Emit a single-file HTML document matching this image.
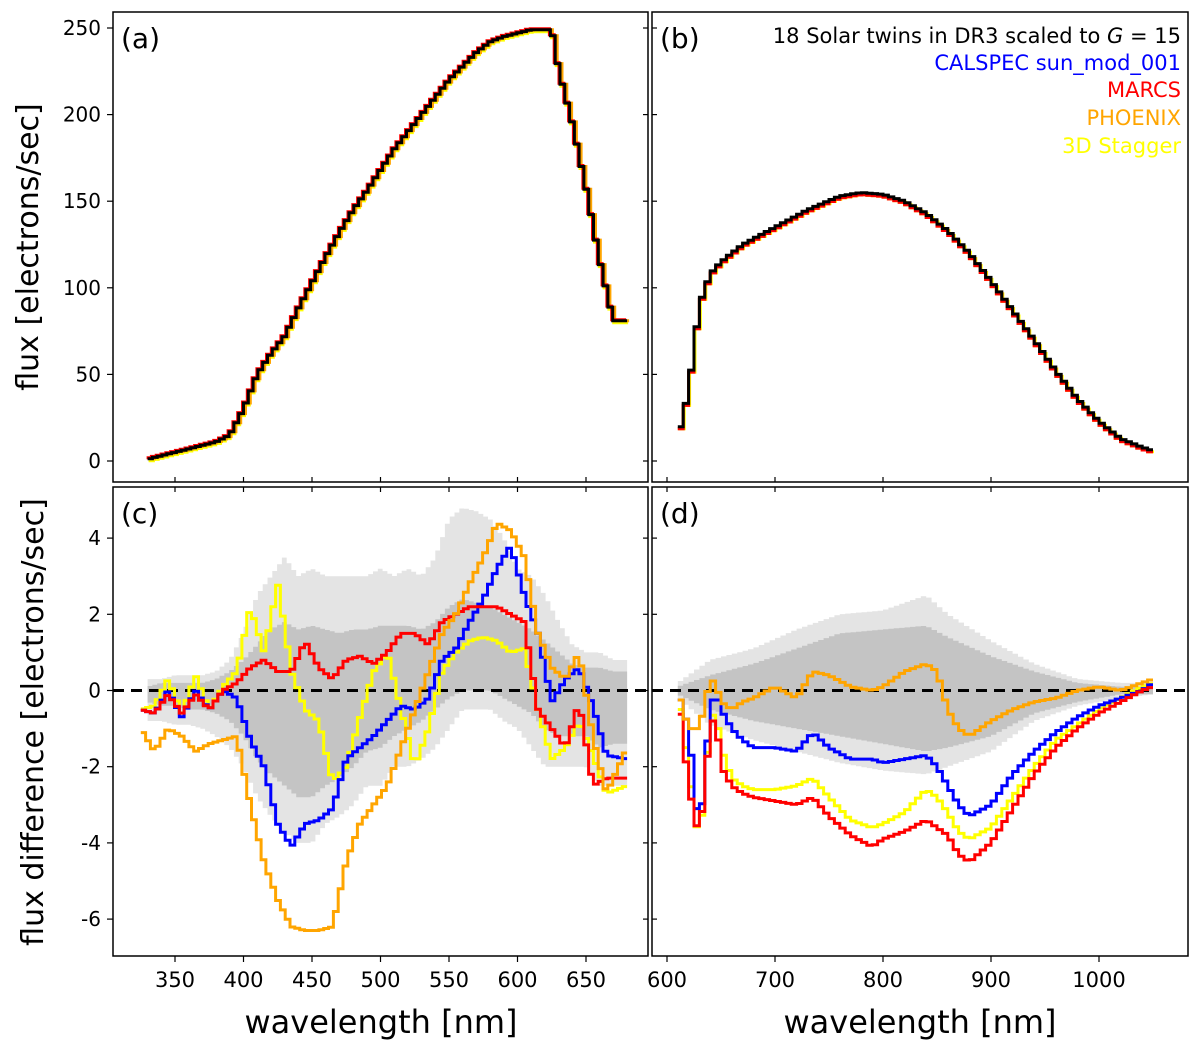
<!DOCTYPE html>
<html><head><meta charset="utf-8"><style>
body{margin:0;background:#fff}
svg{display:block;font-family:"DejaVu Sans","Liberation Sans",sans-serif}
</style></head><body>
<svg id="fig" width="1200" height="1050" viewBox="0 0 1200 1050" xmlns="http://www.w3.org/2000/svg">
<g id="bands"></g><g id="lines"></g><g id="frames"></g>
</svg>
<script>
// panel (a)
const aWl=[330,340,350,360,370,380,390,400,410,420,430,440,450,460,470,480,490,500,510,520,530,540,550,560,570,580,590,600,610,620,625,630,640,650,660,670,680];
const aFlux=[1,3,5,7,9,11,15,30,50,62,72,88,103,118,132,145,156,168,180,190,200,210,220,228,236,242,245,247,249,249,249,226,195,158,116,81,81];
// panel (b)
const bWl=[610,620,630,640,650,670,700,730,760,780,800,820,840,860,880,900,920,940,960,980,1000,1020,1040,1050];
const bFlux=[13,40,90,108,115,125,135,145,153,155,154,150,143,133,120,104,87,70,52,36,23,13,8,6];
// panel (c)
const cWl=[325,335,345,355,365,375,385,395,405,415,425,435,445,455,465,475,485,495,505,515,525,535,545,555,565,575,585,595,605,615,625,635,645,655,665,680];
const cBlue=[-0.5,-0.6,0,-0.7,0,-0.5,0,-0.2,-1.3,-2,-3.5,-4.1,-3.5,-3.4,-3.1,-1.8,-1.5,-1.2,-0.8,-0.4,-0.5,-0.2,0.8,1.1,1.8,2.4,3.2,3.8,2.5,1.5,-0.3,0.3,0.6,-0.4,-1.7,-1.8];
const cRed=[-0.5,-0.6,-0.1,-0.6,-0.1,-0.5,0,0.2,0.6,0.8,0.5,0.5,1.3,0.6,0.3,0.8,0.9,0.7,1,1.5,1.5,1.2,1.8,2,2.2,2.2,2.2,2,1.8,-0.5,-1,-1.5,-0.3,-2.5,-2.3,-2.3];
const cOrange=[-1,-1.6,-1,-1.2,-1.6,-1.4,-1.3,-1.2,-3,-4.5,-5.5,-6.2,-6.3,-6.3,-6.2,-4.5,-3.5,-3,-2.5,-1.5,-0.5,0.5,1.5,2,2.8,3.5,4.4,4.2,3.5,1.5,0.6,0.3,1,-1.2,-2.7,-1.5];
const cYellow=[-0.5,-0.4,0.3,-0.6,0.4,-0.5,0.1,0.5,2.2,1.0,2.8,0.5,-0.5,-0.8,-2.4,-2,-0.7,0.5,1,-0.5,-2,-1,0.5,1,1.3,1.4,1.3,1,1.1,-0.5,-1.8,-1.5,-0.8,-1.7,-2.7,-2.5];
const cBandWl=[330,340,350,360,370,380,390,400,410,420,430,440,450,460,470,480,490,500,510,520,530,540,550,560,570,580,590,600,610,620,630,640,650,660,670,680];
const cOuterHi=[0.3,0.3,0.4,0.4,0.4,0.5,0.8,1.5,2.5,3,3.5,3,3.2,3,3,3,3,3.2,3,3.2,3,3.5,4.5,4.8,4.7,4.5,4,3.2,3,2.5,1.8,1.2,1,1,0.8,0.8];
const cOuterLo=[-0.8,-0.8,-0.9,-0.9,-1,-1.2,-1.5,-2,-2.8,-3.3,-3.7,-4,-4,-3.5,-3.3,-3,-2.5,-2.5,-2,-2,-1.8,-1.5,-1,-0.5,-0.5,-0.5,-0.8,-1,-1.5,-2,-2,-2,-2,-2.5,-2.5,-2.5];
const cInnerHi=[0.1,0.2,0.2,0.2,0.2,0.3,0.5,0.8,1.2,1.6,1.8,1.6,1.7,1.6,1.5,1.6,1.6,1.7,1.7,1.7,1.6,1.8,2.2,2.4,2.3,2.2,2,1.8,1.6,1.3,1,0.7,0.6,0.6,0.5,0.5];
const cInnerLo=[-0.3,-0.4,-0.4,-0.5,-0.5,-0.6,-0.8,-1.2,-1.8,-2.2,-2.5,-2.8,-2.8,-2.5,-2.3,-2,-1.6,-1.5,-1.2,-1,-0.8,-0.5,-0.2,0,0,0,-0.2,-0.4,-0.6,-1,-1.2,-1.2,-1.2,-1.5,-1.4,-1.4];
// panel (d)
const dWl=[610,620,630,640,645,650,660,670,680,700,720,735,750,770,790,800,820,840,850,860,870,880,900,920,940,960,980,1000,1020,1040,1050];
const dBlue=[0,-1,-3.8,-0.5,0,-0.5,-1,-1.3,-1.5,-1.5,-1.6,-1.1,-1.5,-1.8,-1.8,-1.9,-1.8,-1.7,-2,-2.5,-3,-3.3,-3,-2.2,-1.6,-1.1,-0.7,-0.4,-0.2,0,0.2];
const dRed=[0,-2.5,-3.9,-1,-0.6,-2,-2.5,-2.7,-2.8,-2.9,-3,-2.8,-3.3,-3.8,-4.1,-3.9,-3.7,-3.4,-3.6,-3.8,-4.3,-4.5,-4,-3.1,-2.2,-1.5,-1,-0.6,-0.3,0,0.1];
const dYellow=[0,-2,-4.1,-0.8,-0.5,-1.5,-2.3,-2.5,-2.6,-2.6,-2.5,-2.3,-2.8,-3.4,-3.6,-3.5,-3.2,-2.6,-2.8,-3.2,-3.7,-3.9,-3.6,-2.8,-2,-1.3,-0.9,-0.5,-0.2,0.1,0.2];
const dOrange=[0,-1,-1,0.3,0.2,-0.3,-0.5,-0.3,-0.2,0.1,-0.2,0.5,0.4,0.1,0,0.1,0.5,0.7,0.5,-0.5,-1,-1.2,-0.8,-0.5,-0.3,-0.2,0,0.1,0,0.2,0.3];
const dBandWl=[610,640,680,720,760,800,840,860,900,940,980,1020,1050];
const dOuterHi=[0.2,0.8,1.1,1.6,2,2.1,2.5,2,1.3,0.7,0.3,0.2,0.2];
const dOuterLo=[-0.2,-0.9,-1.3,-1.6,-1.9,-2.1,-2.2,-2,-1.6,-0.8,-0.4,-0.2,-0.1];
const dInnerHi=[0.1,0.4,0.7,1.1,1.5,1.6,1.7,1.4,0.9,0.5,0.2,0.1,0.1];
const dInnerLo=[-0.1,-0.5,-0.8,-1,-1.2,-1.4,-1.6,-1.5,-1.2,-0.6,-0.3,-0.1,-0.1];
const yTicksA=[0,50,100,150,200,250];
const yTicksC=[-6,-4,-2,0,2,4];
const xTicksC=[350,400,450,500,550,600,650];
const xTicksD=[600,700,800,900,1000];

const NS="http://www.w3.org/2000/svg";
const svg=document.getElementById('fig');
const gB=document.getElementById('bands'),gL=document.getElementById('lines'),gF=document.getElementById('frames');
const P={a:{x0:113,x1:648,y0:12,y1:482},b:{x0:652,x1:1188,y0:12,y1:482},c:{x0:113,x1:648,y0:487,y1:956},d:{x0:652,x1:1188,y0:487,y1:956}};
const xL=w=>175+(w-350)*68.5/50;
const xR=w=>667+(w-600)*1.08;
const yTop=v=>461-v*1.732;
const yBot=v=>690.5-v*38.1;
function el(t,a,p){const e=document.createElementNS(NS,t);for(const k in a)e.setAttribute(k,a[k]);(p||svg).appendChild(e);return e;}
function interp(xs,ys,x){if(x<=xs[0])return ys[0];for(let i=1;i<xs.length;i++){if(x<=xs[i]){const t=(x-xs[i-1])/(xs[i]-xs[i-1]);return ys[i-1]+t*(ys[i]-ys[i-1]);}}return ys[ys.length-1];}
// render as fine steps (binning of the piecewise curve)
function stepPts(xs,ys,fx,fy,dw){const a=xs[0],b=xs[xs.length-1];const n=Math.max(1,Math.round((b-a)/dw));const w=(b-a)/n;let s=[];
for(let i=0;i<n;i++){const x0=a+i*w,x1=x0+w;const v=interp(xs,ys,(x0+x1)/2);s.push(fx(x0).toFixed(1)+','+fy(v).toFixed(1));s.push(fx(x1).toFixed(1)+','+fy(v).toFixed(1));}return s;}
function line(xs,ys,fx,fy,col,w,name,dw,dx,dy){const e=el('polyline',{points:stepPts(xs,ys,fx,fy,dw).join(' '),fill:'none',stroke:col,'stroke-width':w,transform:`translate(${dx||0},${dy||0})`},gL);

}
function band(xs,hi,lo,fx,fy,col,name,dw){const top=stepPts(xs,hi,fx,fy,dw);const bot=stepPts(xs,lo,fx,fy,dw).reverse();const e=el('polygon',{points:top.concat(bot).join(' '),fill:col},gB);

}
// top panels
line(aWl,aFlux,xL,yTop,'#ffff00',3,'a-stagger-line',3.5,1,2);
line(aWl,aFlux,xL,yTop,'#ffa500',3,'a-phoenix-line',3.5,2,0);
line(aWl,aFlux,xL,yTop,'#ff0000',3,'a-marcs-line',3.5,-1,-1);
line(aWl,aFlux,xL,yTop,'#000',3,'a-twins-line',3.5);
line(bWl,bFlux,xR,yTop,'#ffff00',3,'b-stagger-line',5,1,2);
line(bWl,bFlux,xR,yTop,'#ffa500',3,'b-phoenix-line',5,0,2);
line(bWl,bFlux,xR,yTop,'#ff0000',3,'b-marcs-line',5,0,2);
line(bWl,bFlux,xR,yTop,'#000',3,'b-twins-line',5);
// bands
band(cBandWl,cOuterHi,cOuterLo,xL,yBot,'#e4e4e4','c-outer-band',3.5);
band(cBandWl,cInnerHi,cInnerLo,xL,yBot,'#c4c4c4','c-inner-band',3.5);
band(dBandWl,dOuterHi,dOuterLo,xR,yBot,'#e4e4e4','d-outer-band',5);
band(dBandWl,dInnerHi,dInnerLo,xR,yBot,'#c4c4c4','d-inner-band',5);
// zero lines
for(const k of ['c','d']){const z=el('line',{x1:P[k].x0,x2:P[k].x1,y1:yBot(0),y2:yBot(0),stroke:'#000','stroke-width':3,'stroke-dasharray':'11,7'},gL);

}
line(cWl,cYellow,xL,yBot,'#ffff00',3,'c-stagger-line',3.5);
line(cWl,cBlue,xL,yBot,'#0000ff',3,'c-calspec-line',3.5);
line(cWl,cRed,xL,yBot,'#ff0000',3,'c-marcs-line',3.5);
line(cWl,cOrange,xL,yBot,'#ffa500',3,'c-phoenix-line',3.5);
line(dWl,dYellow,xR,yBot,'#ffff00',3,'d-stagger-line',5);
line(dWl,dBlue,xR,yBot,'#0000ff',3,'d-calspec-line',5);
line(dWl,dRed,xR,yBot,'#ff0000',3,'d-marcs-line',5);
line(dWl,dOrange,xR,yBot,'#ffa500',3,'d-phoenix-line',5);
// frames
for(const k in P){const p=P[k];const r=el('rect',{x:p.x0,y:p.y0,width:p.x1-p.x0,height:p.y1-p.y0,fill:'none',stroke:'#000','stroke-width':1.5},gF);


const t=el('text',{x:p.x0+8,y:p.y0+36,'font-size':28,fill:'#000'},gF);t.textContent='('+k+')';

}
function tick(x1,y1,x2,y2){el('line',{x1,y1,x2,y2,stroke:'#000','stroke-width':1.2},gF);}
for(const v of yTicksA){const y=yTop(v);tick(107,y,113,y);tick(652,y,657,y);tick(643,y,648,y);
const t=el('text',{x:101,y:y+7,'font-size':20,'text-anchor':'end'},gF);t.textContent=v;

}
for(const v of yTicksC){const y=yBot(v);tick(107,y,113,y);tick(652,y,657,y);tick(643,y,648,y);
const t=el('text',{x:101,y:y+7,'font-size':20,'text-anchor':'end'},gF);t.textContent=v;

}
for(const v of xTicksC){const x=xL(v);tick(x,956,x,962);tick(x,482,x,477);tick(x,487,x,492);
const t=el('text',{x:x,y:987,'font-size':21,'text-anchor':'middle'},gF);t.textContent=v;

}
for(const v of xTicksD){const x=xR(v);tick(x,956,x,962);tick(x,482,x,477);tick(x,487,x,492);
const t=el('text',{x:x,y:987,'font-size':21,'text-anchor':'middle'},gF);t.textContent=v;

}
</script>
<div style="position:absolute;left:0;top:0;width:1200px;height:1050px;pointer-events:none">
<svg width="1200" height="1050" style="font-family:'DejaVu Sans','Liberation Sans',sans-serif">
<text x="38" y="247" font-size="30" text-anchor="middle" transform="rotate(-90 38 247)">flux [electrons/sec]</text>
<text x="43" y="722" font-size="30" text-anchor="middle" transform="rotate(-90 43 722)">flux difference [electrons/sec]</text>
<text x="381" y="1033" font-size="32" text-anchor="middle">wavelength [nm]</text>
<text x="920" y="1033" font-size="32" text-anchor="middle">wavelength [nm]</text>
<g font-size="21" text-anchor="end">
<text x="1181" y="43" fill="#000">18 Solar twins in DR3 scaled to <tspan font-style="italic">G</tspan> = 15</text>
<text x="1181" y="70" fill="#0000ff">CALSPEC sun_mod_001</text>
<text x="1181" y="97" fill="#ff0000">MARCS</text>
<text x="1181" y="125" fill="#ffa500">PHOENIX</text>
<text x="1181" y="153" fill="#ffff00">3D Stagger</text>
</g>
</svg></div>
</body></html>
